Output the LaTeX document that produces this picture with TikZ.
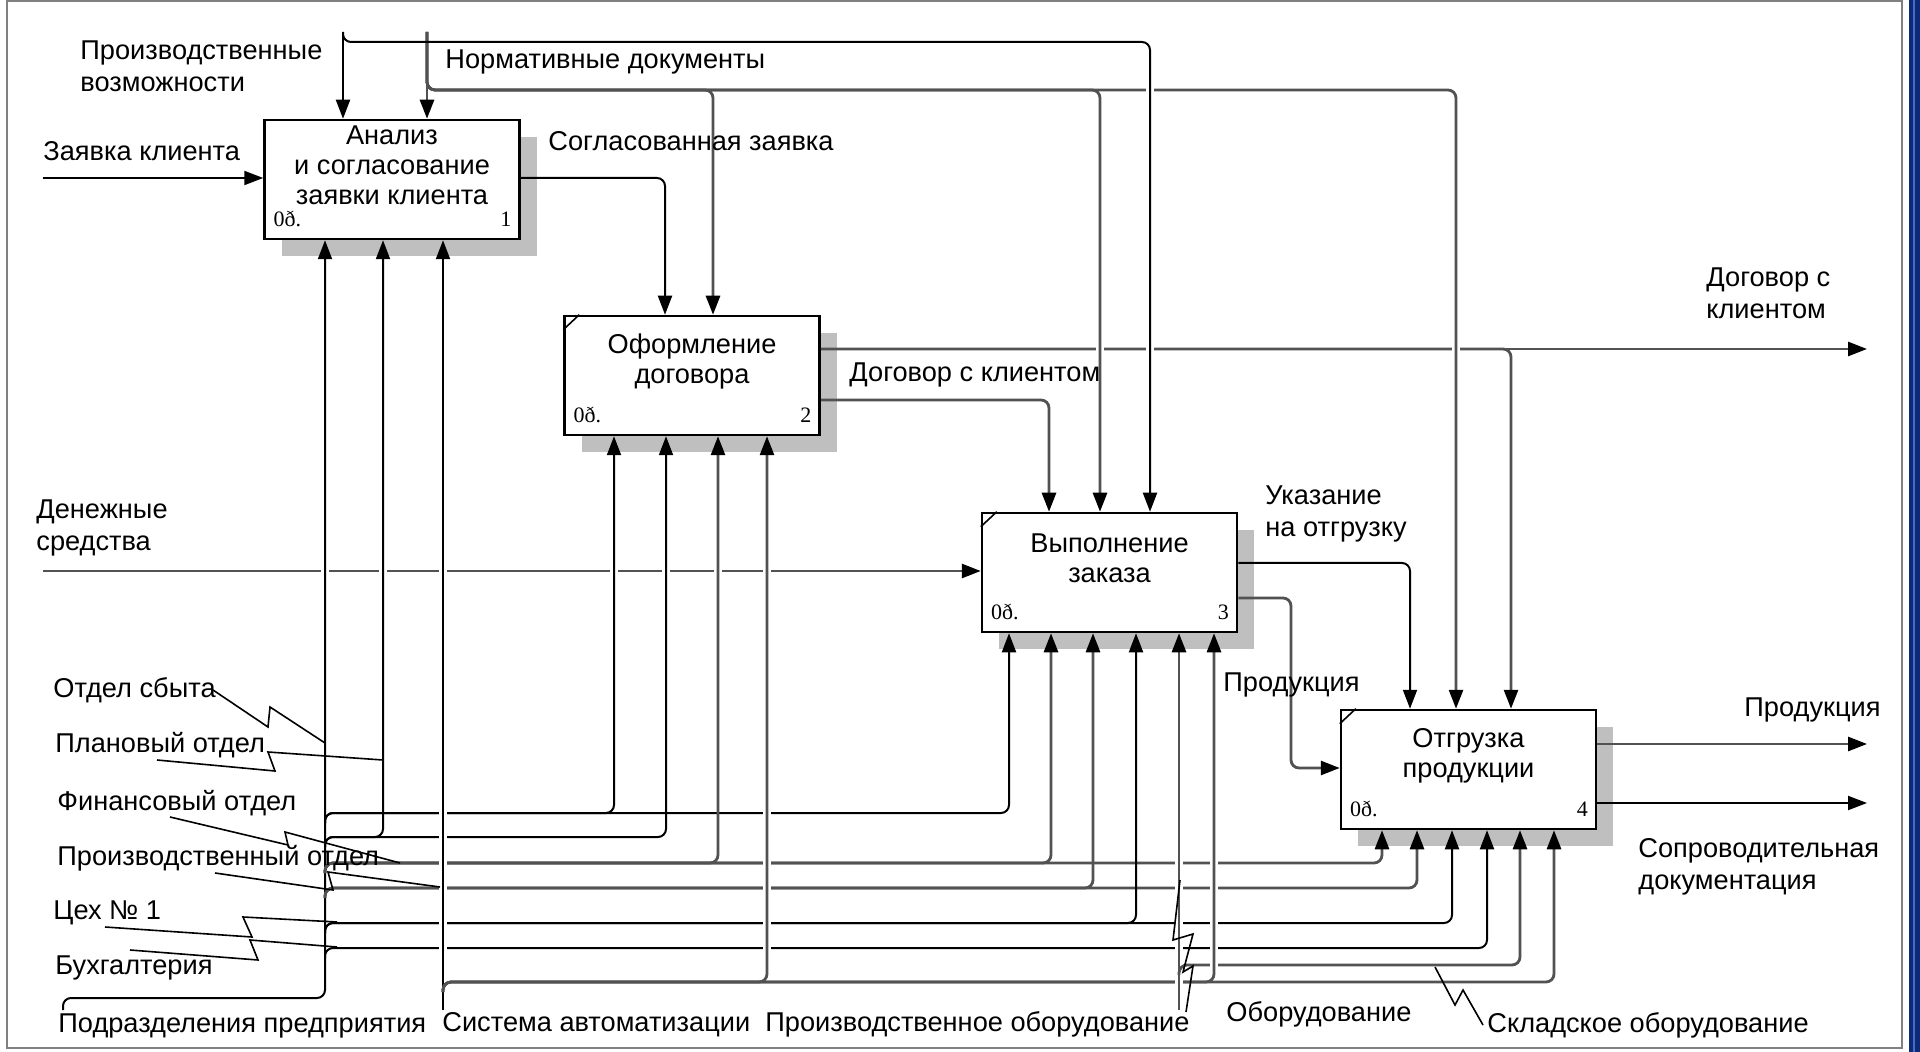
\documentclass[tikz,border=0pt]{standalone}
\usepackage{fontspec}
\setmainfont{Liberation Sans}
\newfontfamily\costfont{Liberation Serif}
\usetikzlibrary{arrows.meta, shadows, positioning}

\definecolor{slideblue}{HTML}{0C2A78}
\definecolor{slideline}{HTML}{4A6CC0}

\begin{document}
\begin{tikzpicture}[x=0.5pt, y=-0.5pt,
    font=\fontsize{13.6}{16}\selectfont,
    box/.style={draw, line width=1.25pt, fill=white, inner sep=0pt,
        minimum width=127.5pt, minimum height=59.5pt,
        drop shadow={shadow xshift=8.5pt, shadow yshift=-8.5pt, fill=gray!50, opacity=1}},
    boxtext/.style={align=center, inner sep=0pt, font=\fontsize{13.6}{15}\selectfont},
    cost/.style={inner sep=0pt, font=\costfont\fontsize{11}{11}\selectfont},
    lbl/.style={inner sep=0pt, anchor=north west, align=left},
    flow/.style={line width=1pt, rounded corners=4pt},
    flowg/.style={flow, draw=black!68, line width=1.4pt},
    arr/.style={-{Triangle[length=9.5pt, width=7pt, color=black]}},
    gapline/.style={draw=white, line width=4pt},
    zig/.style={line width=0.8pt}
]
    \useasboundingbox (0,0) rectangle (1920,1052);
    \fill[white] (0,0) rectangle (1920,1052);
    \fill[slideblue] (1909,0) rectangle (1920,1052);
    \draw[slideline, line width=1pt] (1914,0) -- (1914,1052);
    \draw[gray, line width=1.2pt] (7,1) rectangle (1902,1048);

    % functions
    \node[box] (b1) at (392,179.5) {};
    \node[box] (b2) at (692,375.5) {};
    \node[box] (b3) at (1109.5,572.5) {};
    \node[box] (b4) at (1468.5,769.5) {};
    \node[boxtext] (t1) at ([yshift=-23.5pt]b1.north) {Анализ\\и согласование\\заявки клиента};
    \node[boxtext] (t2) at ([yshift=-23.5pt]b2.north) {Оформление\\договора};
    \node[boxtext] (t3) at ([yshift=-23.5pt]b3.north) {Выполнение\\заказа};
    \node[boxtext] (t4) at ([yshift=-23.5pt]b4.north) {Отгрузка\\продукции};
    \foreach \b/\n in {b1/1, b2/2, b3/3, b4/4} {
        \node[cost, anchor=base west] (c\n) at ([xshift=5pt, yshift=7pt]\b.south west) {0ð.};
        \node[cost, anchor=base east] (n\n) at ([xshift=-4.5pt, yshift=7pt]\b.south east) {\n};
    }
    \foreach \b in {b2, b3, b4}
        \draw[line width=0.8pt] ([yshift=-7.5pt]\b.north west) -- ([xshift=8pt]\b.north west);

    % free ends
    \coordinate (pvIn) at (343,32);
    \coordinate (ndIn) at (427,32);
    \coordinate (zkIn) at (43,178);
    \coordinate (dsIn) at (43,571);
    \coordinate (dkOut) at (1867,349);
    \coordinate (prOut) at (1867,744);
    \coordinate (sdOut) at (1867,803);
    \coordinate (ppIn) at (63,1010);
    \coordinate (saIn) at (443,1010);
    \coordinate (poIn) at (1179,1010);

    % outputs between functions
    \draw[flow,arr] (b1.east |- zkIn) -- (665,178) -- (665,0 |- b2.north);
    \draw[flowg,arr] (b2.east |- dkOut) -- (dkOut);
    \draw[flowg,arr] (b2.east |- dkOut) -- (1511,349) -- (1511,0 |- b4.north);
    \draw[flowg,arr] (b2.east |- 0,400) -- (1049,400) -- (1049,0 |- b3.north);

    % controls
    \foreach \x in {1100, 1150, 1456} \draw[gapline] (\x,342) -- (\x,356);
    \draw[gapline] (713,171) -- (713,185);
    \draw[flowg,arr] (ndIn) -- (ndIn |- b1.north);
    \foreach \x/\b in {713/b2, 1100/b3, 1456/b4}
        \draw[flowg,arr] (ndIn) -- (427,90) -- (\x,90) -- (\x,0 |- \b.north);
    \draw[gapline] (1150,83) -- (1150,97);
    \draw[flow,arr] (pvIn) -- (pvIn |- b1.north);
    \draw[flow,arr] (pvIn) -- (343,42) -- (1150,42) -- (1150,0 |- b3.north);

    % inputs and outputs
    \draw[flow,arr] (zkIn) -- (zkIn -| b1.west);
    \draw[flow,arr] (b3.east |- 0,563) -- (1410,563) -- (1410,0 |- b4.north);
    \draw[flowg,arr] (b3.east |- 0,598) -- (1291,598) -- (1291,768) -- (b4.west |- 0,768);
    \draw[flowg,arr] (b4.east |- prOut) -- (prOut);
    \draw[flow,arr] (b4.east |- sdOut) -- (sdOut);
    \draw[flowg,arr] (dsIn) -- (dsIn -| b3.west);
    \foreach \x in {325, 383, 443, 614, 666, 718, 767} \draw[gapline] (\x,563) -- (\x,579);

    % mechanisms
    \draw[flow,arr] (ppIn) -- (63,998) -- (325,998) -- (325,0 |- b1.south);
    \foreach \y/\x/\b/\s in {813/614/b2/flow, 813/1009/b3/flow, 837/383/b1/flow, 837/666/b2/flow,
            863/718/b2/flowg, 863/1051/b3/flowg, 863/1382/b4/flowg, 888/1093/b3/flowg,
            888/1417/b4/flowg, 923/1136/b3/flow, 923/1452/b4/flow, 948/1487/b4/flow}
        \draw[\s,arr] (325,\y+10) -- (325,\y) -- (\x,\y) -- (\x,0 |- \b.south);
    \draw[flowg,arr] (1179,975) -- (1179,965) -- (1520,965) -- (1520,0 |- b4.south);
    \foreach \x in {443, 767} \draw[gapline] (\x,804) -- (\x,957);
    \draw[gapline] (1214,854) -- (1214,972);
    \draw[flow,arr] (saIn) -- (saIn |- b1.south);
    \foreach \x/\b in {767/b2, 1214/b3, 1554/b4}
        \draw[flowg,arr] (443,992) -- (443,982) -- (\x,982) -- (\x,0 |- \b.south);
    \draw[gapline] (1179,854) -- (1179,957);
    \draw[gapline] (1179,976) -- (1179,989);
    \draw[flowg,arr] (poIn) -- (poIn |- b3.south);

    % squiggles
    \draw[zig] (213,690) -- (268,727) -- (270,707) -- (325,743);
    \draw[zig] (157,760) -- (275,771) -- (268,752) -- (383,760);
    \draw[zig] (170,817) -- (288,845) -- (285,832) -- (400,863);
    \draw[zig] (215,873) -- (333,890) -- (328,872) -- (440,887);
    \draw[zig] (105,927) -- (252,937) -- (243,917) -- (337,922);
    \draw[zig] (130,950) -- (258,960) -- (250,940) -- (337,947);
    \draw[zig] (1435,967) -- (1455,1005) -- (1463,990) -- (1483,1025);
    \draw[zig] (1186,1012) -- (1193,966) -- (1183,972) -- (1193,934) -- (1173,940) -- (1180,880);

    % labels
    \node[lbl] (lPv) at (80,40) {Производственные\\возможности};
    \node[lbl] (lNd) at (445,49) {Нормативные документы};
    \node[lbl] (lZk) at (43,141) {Заявка клиента};
    \node[lbl] (lSz) at (548,131) {Согласованная заявка};
    \node[lbl] (lDk) at (849,362) {Договор с клиентом};
    \node[lbl] (lDkOut) at (1706,267) {Договор с\\клиентом};
    \node[lbl] (lDs) at (36,499) {Денежные\\средства};
    \node[lbl] (lUk) at (1265,485) {Указание\\на отгрузку};
    \node[lbl] (lPr) at (1223,672) {Продукция};
    \node[lbl] (lPrOut) at (1744,697) {Продукция};
    \node[lbl] (lSd) at (1638,838) {Сопроводительная\\документация};
    \node[lbl] (lSb) at (53,677) {Отдел сбыта};
    \node[lbl] (lPl) at (55,732) {Плановый отдел};
    \node[lbl] (lFin) at (57,790) {Финансовый отдел};
    \node[lbl] (lPo) at (57,845) {Производственный отдел};
    \node[lbl] (lCeh) at (53,900) {Цех № 1};
    \node[lbl] (lBuh) at (55,955) {Бухгалтерия};
    \node[lbl] (lPp) at (58,1013) {Подразделения предприятия};
    \node[lbl] (lSa) at (442,1012) {Система автоматизации};
    \node[lbl] (lPob) at (765,1011) {Производственное оборудование};
    \node[lbl] (lOb) at (1226,1001) {Оборудование};
    \node[lbl] (lSk) at (1487,1012) {Складское оборудование};
\end{tikzpicture}
\end{document}
